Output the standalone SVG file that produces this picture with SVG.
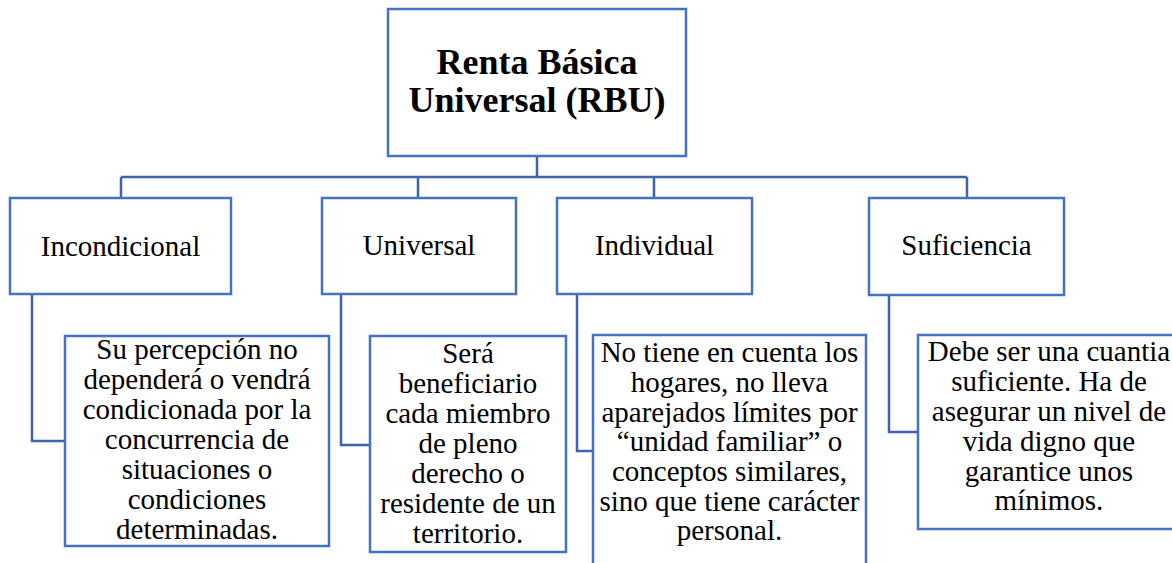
<svg xmlns="http://www.w3.org/2000/svg" width="1172" height="563" viewBox="0 0 1172 563">
<style>
.box{fill:#ffffff;stroke:#4472C4;stroke-width:2.5}
.conn{fill:none;stroke:#3D63AA;stroke-width:2.5}
.t{font-family:"Liberation Serif","Times New Roman",serif;fill:#000;text-anchor:middle}
.title{font-size:36px;font-weight:bold}
.lbl{font-size:29px}
.det{font-size:29px}
</style>
<rect width="1172" height="563" fill="#ffffff"/>
<g id="connectors">
<path class="conn" d="M537,156 V177 M121,177 H967 M121,177 V198 M418,177 V198 M654,177 V198 M967,177 V198"/>
<path class="conn" d="M32,294 V441 H65"/>
<path class="conn" d="M341,294 V445 H370"/>
<path class="conn" d="M577,294 V451 H593"/>
<path class="conn" d="M889,295 V432 H918"/>
</g>
<g id="root">
<rect class="box" x="388" y="9" width="298" height="147"/>
<text class="t title" x="537" y="74">Renta Básica</text>
<text class="t title" x="537" y="112">Universal (RBU)</text>
</g>
<g id="incondicional">
<rect class="box" x="10" y="198" width="221" height="96"/>
<text class="t lbl" x="120.5" y="256">Incondicional</text>
</g>
<g id="universal">
<rect class="box" x="322" y="198" width="194" height="96"/>
<text class="t lbl" x="419" y="255">Universal</text>
</g>
<g id="individual">
<rect class="box" x="557" y="198" width="195" height="96"/>
<text class="t lbl" x="654.5" y="255">Individual</text>
</g>
<g id="suficiencia">
<rect class="box" x="869" y="198" width="195" height="97"/>
<text class="t lbl" x="966.5" y="255">Suficiencia</text>
</g>
<g id="incondicional-detail">
<rect class="box" x="65" y="336" width="264" height="210"/>
<text class="t det" x="197" y="359">Su percepción no</text>
<text class="t det" x="197" y="389">dependerá o vendrá</text>
<text class="t det" x="197" y="419">condicionada por la</text>
<text class="t det" x="197" y="449">concurrencia de</text>
<text class="t det" x="197" y="479">situaciones o</text>
<text class="t det" x="197" y="509">condiciones</text>
<text class="t det" x="197" y="539">determinadas.</text>
</g>
<g id="universal-detail">
<rect class="box" x="370" y="336" width="196" height="216"/>
<text class="t det" x="468" y="363">Será</text>
<text class="t det" x="468" y="393">beneficiario</text>
<text class="t det" x="468" y="423">cada miembro</text>
<text class="t det" x="468" y="453">de pleno</text>
<text class="t det" x="468" y="483">derecho o</text>
<text class="t det" x="468" y="513">residente de un</text>
<text class="t det" x="468" y="543">territorio.</text>
</g>
<g id="individual-detail">
<rect class="box" x="593" y="335" width="273" height="250"/>
<text class="t det" x="729.5" y="362">No tiene en cuenta los</text>
<text class="t det" x="729.5" y="392">hogares, no lleva</text>
<text class="t det" x="729.5" y="422">aparejados límites por</text>
<text class="t det" x="729.5" y="451">“unidad familiar” o</text>
<text class="t det" x="729.5" y="481">conceptos similares,</text>
<text class="t det" x="729.5" y="511">sino que tiene carácter</text>
<text class="t det" x="729.5" y="540">personal.</text>
</g>
<g id="suficiencia-detail">
<rect class="box" x="918" y="335" width="270" height="194"/>
<text class="t det" x="1049" y="361">Debe ser una cuantia</text>
<text class="t det" x="1049" y="391">suficiente. Ha de</text>
<text class="t det" x="1049" y="421">asegurar un nivel de</text>
<text class="t det" x="1049" y="451">vida digno que</text>
<text class="t det" x="1049" y="481">garantice unos</text>
<text class="t det" x="1049" y="510">mínimos.</text>
</g>
</svg>
